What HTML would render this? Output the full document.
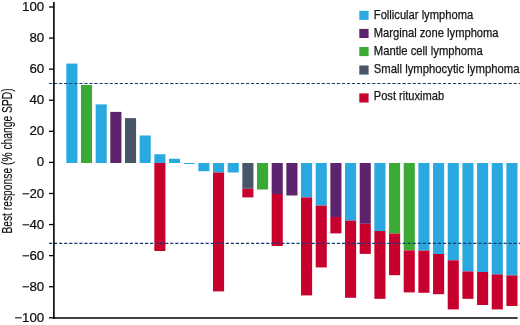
<!DOCTYPE html>
<html><head><meta charset="utf-8"><title>Best response waterfall</title>
<style>
html,body{margin:0;padding:0;background:#fff;}
body{width:520px;height:325px;overflow:hidden;}
svg{display:block;will-change:transform;}
.t{font-family:"Liberation Sans",sans-serif;font-size:12.2px;fill:#151515;stroke:#151515;stroke-width:0.25px;}
.k{font-family:"Liberation Sans",sans-serif;font-size:12.3px;fill:#0c0c0c;stroke:#0c0c0c;stroke-width:0.2px;}
.yl{font-family:"Liberation Sans",sans-serif;font-size:14px;fill:#111;stroke:#111;stroke-width:0.15px;}
</style></head>
<body>
<svg width="520" height="325" viewBox="0 0 520 325">
<rect width="520" height="325" fill="#fff"/>
<rect x="66.30" y="63.60" width="11.1" height="99.40" fill="#29a9e0"/>
<rect x="80.97" y="85.00" width="11.1" height="78.00" fill="#3aaa35"/>
<rect x="95.64" y="104.40" width="11.1" height="58.60" fill="#29a9e0"/>
<rect x="110.31" y="111.90" width="11.1" height="51.10" fill="#5c246e"/>
<rect x="124.98" y="118.10" width="11.1" height="44.90" fill="#495669"/>
<rect x="139.65" y="135.50" width="11.1" height="27.50" fill="#29a9e0"/>
<rect x="154.32" y="154.25" width="11.1" height="8.75" fill="#29a9e0"/>
<rect x="154.32" y="163.00" width="11.1" height="88.00" fill="#c8002e"/>
<rect x="168.99" y="158.75" width="11.1" height="4.25" fill="#29a9e0"/>
<rect x="183.66" y="163.00" width="11.1" height="1.00" fill="#29a9e0"/>
<rect x="198.33" y="163.00" width="11.1" height="8.25" fill="#29a9e0"/>
<rect x="213.00" y="163.00" width="11.1" height="9.50" fill="#29a9e0"/>
<rect x="213.00" y="172.50" width="11.1" height="118.90" fill="#c8002e"/>
<rect x="227.67" y="163.00" width="11.1" height="9.50" fill="#29a9e0"/>
<rect x="242.34" y="163.00" width="11.1" height="25.75" fill="#495669"/>
<rect x="242.34" y="188.75" width="11.1" height="8.65" fill="#c8002e"/>
<rect x="257.01" y="163.00" width="11.1" height="26.50" fill="#3aaa35"/>
<rect x="271.68" y="163.00" width="11.1" height="31.00" fill="#5c246e"/>
<rect x="271.68" y="194.00" width="11.1" height="52.00" fill="#c8002e"/>
<rect x="286.35" y="163.00" width="11.1" height="32.50" fill="#5c246e"/>
<rect x="301.02" y="163.00" width="11.1" height="34.40" fill="#29a9e0"/>
<rect x="301.02" y="197.40" width="11.1" height="98.00" fill="#c8002e"/>
<rect x="315.69" y="163.00" width="11.1" height="42.60" fill="#29a9e0"/>
<rect x="315.69" y="205.60" width="11.1" height="61.80" fill="#c8002e"/>
<rect x="330.36" y="163.00" width="11.1" height="54.00" fill="#5c246e"/>
<rect x="330.36" y="217.00" width="11.1" height="16.40" fill="#c8002e"/>
<rect x="345.03" y="163.00" width="11.1" height="57.60" fill="#29a9e0"/>
<rect x="345.03" y="220.60" width="11.1" height="77.20" fill="#c8002e"/>
<rect x="359.70" y="163.00" width="11.1" height="60.80" fill="#5c246e"/>
<rect x="359.70" y="223.80" width="11.1" height="30.10" fill="#c8002e"/>
<rect x="374.37" y="163.00" width="11.1" height="68.00" fill="#29a9e0"/>
<rect x="374.37" y="231.00" width="11.1" height="67.80" fill="#c8002e"/>
<rect x="389.04" y="163.00" width="11.1" height="70.60" fill="#3aaa35"/>
<rect x="389.04" y="233.60" width="11.1" height="41.60" fill="#c8002e"/>
<rect x="403.71" y="163.00" width="11.1" height="87.40" fill="#3aaa35"/>
<rect x="403.71" y="250.40" width="11.1" height="42.00" fill="#c8002e"/>
<rect x="418.38" y="163.00" width="11.1" height="87.60" fill="#29a9e0"/>
<rect x="418.38" y="250.60" width="11.1" height="42.20" fill="#c8002e"/>
<rect x="433.05" y="163.00" width="11.1" height="91.00" fill="#29a9e0"/>
<rect x="433.05" y="254.00" width="11.1" height="40.20" fill="#c8002e"/>
<rect x="447.72" y="163.00" width="11.1" height="97.30" fill="#29a9e0"/>
<rect x="447.72" y="260.30" width="11.1" height="49.10" fill="#c8002e"/>
<rect x="462.39" y="163.00" width="11.1" height="108.40" fill="#29a9e0"/>
<rect x="462.39" y="271.40" width="11.1" height="27.40" fill="#c8002e"/>
<rect x="477.06" y="163.00" width="11.1" height="109.00" fill="#29a9e0"/>
<rect x="477.06" y="272.00" width="11.1" height="33.00" fill="#c8002e"/>
<rect x="491.73" y="163.00" width="11.1" height="111.40" fill="#29a9e0"/>
<rect x="491.73" y="274.40" width="11.1" height="35.00" fill="#c8002e"/>
<rect x="506.40" y="163.00" width="11.1" height="112.40" fill="#29a9e0"/>
<rect x="506.40" y="275.40" width="11.1" height="30.60" fill="#c8002e"/>
<line x1="49" y1="83.45" x2="520" y2="83.45" stroke="#163a72" stroke-width="1.15" stroke-dasharray="3.2 1.85"/>
<line x1="49" y1="243.4" x2="520" y2="243.4" stroke="#163a72" stroke-width="1.15" stroke-dasharray="3.2 1.85"/>
<line x1="53.9" y1="2" x2="53.9" y2="318.5" stroke="#000" stroke-width="1.6"/>
<line x1="53.1" y1="318.0" x2="517.6" y2="318.0" stroke="#000" stroke-width="1.6"/>
<line x1="49" y1="7.00" x2="54" y2="7.00" stroke="#000" stroke-width="1.3"/>
<text transform="translate(44.2,11.05) scale(1.08,1)" text-anchor="end" class="k">100</text>
<line x1="49" y1="38.08" x2="54" y2="38.08" stroke="#000" stroke-width="1.3"/>
<text transform="translate(44.2,42.13) scale(1.08,1)" text-anchor="end" class="k">80</text>
<line x1="49" y1="69.16" x2="54" y2="69.16" stroke="#000" stroke-width="1.3"/>
<text transform="translate(44.2,73.21) scale(1.08,1)" text-anchor="end" class="k">60</text>
<line x1="49" y1="100.24" x2="54" y2="100.24" stroke="#000" stroke-width="1.3"/>
<text transform="translate(44.2,104.29) scale(1.08,1)" text-anchor="end" class="k">40</text>
<line x1="49" y1="131.32" x2="54" y2="131.32" stroke="#000" stroke-width="1.3"/>
<text transform="translate(44.2,135.37) scale(1.08,1)" text-anchor="end" class="k">20</text>
<line x1="49" y1="162.40" x2="54" y2="162.40" stroke="#000" stroke-width="1.3"/>
<text transform="translate(44.2,166.45) scale(1.08,1)" text-anchor="end" class="k">0</text>
<line x1="49" y1="193.48" x2="54" y2="193.48" stroke="#000" stroke-width="1.3"/>
<text transform="translate(44.2,197.53) scale(1.08,1)" text-anchor="end" class="k">−20</text>
<line x1="49" y1="224.56" x2="54" y2="224.56" stroke="#000" stroke-width="1.3"/>
<text transform="translate(44.2,228.61) scale(1.08,1)" text-anchor="end" class="k">−40</text>
<line x1="49" y1="255.64" x2="54" y2="255.64" stroke="#000" stroke-width="1.3"/>
<text transform="translate(44.2,259.69) scale(1.08,1)" text-anchor="end" class="k">−60</text>
<line x1="49" y1="286.72" x2="54" y2="286.72" stroke="#000" stroke-width="1.3"/>
<text transform="translate(44.2,290.77) scale(1.08,1)" text-anchor="end" class="k">−80</text>
<line x1="49" y1="317.80" x2="54" y2="317.80" stroke="#000" stroke-width="1.3"/>
<text transform="translate(44.2,321.85) scale(1.08,1)" text-anchor="end" class="k">−100</text>
<rect x="359.3" y="10.8" width="9.3" height="9.1" fill="#29a9e0"/>
<text x="373.8" y="19.15" class="t" textLength="99.4" lengthAdjust="spacingAndGlyphs">Follicular lymphoma</text>
<rect x="359.3" y="28.9" width="9.3" height="9.1" fill="#5c246e"/>
<text x="373.8" y="36.8" class="t" textLength="124.8" lengthAdjust="spacingAndGlyphs">Marginal zone lymphoma</text>
<rect x="359.3" y="47.0" width="9.3" height="9.1" fill="#3aaa35"/>
<text x="373.8" y="54.9" class="t" textLength="108.9" lengthAdjust="spacingAndGlyphs">Mantle cell lymphoma</text>
<rect x="359.3" y="65.5" width="9.3" height="9.1" fill="#495669"/>
<text x="373.8" y="72.85" class="t" textLength="145.7" lengthAdjust="spacingAndGlyphs">Small lymphocytic lymphoma</text>
<rect x="359.3" y="93.4" width="9.3" height="9.1" fill="#c8002e"/>
<text x="373.8" y="100.35" class="t" textLength="70.3" lengthAdjust="spacingAndGlyphs">Post rituximab</text>
<text class="yl" transform="translate(12.1,233.6) rotate(-90)" textLength="145.2" lengthAdjust="spacingAndGlyphs">Best response (% change SPD)</text>
</svg>
</body></html>
